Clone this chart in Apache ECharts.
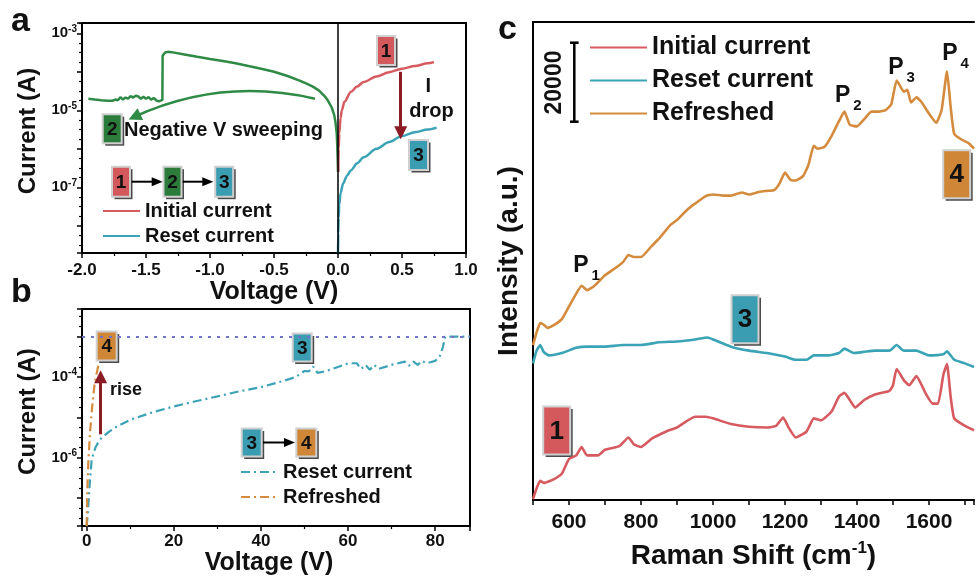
<!DOCTYPE html>
<html><head><meta charset="utf-8"><title>I-V and Raman</title>
<script src="https://cdn.jsdelivr.net/npm/echarts@6.0.0/dist/echarts.min.js"></script>
<style>html,body{margin:0;padding:0;background:#fff;}#chart{width:977px;height:577px;}</style>
</head><body><div id="chart"></div>
<script>
// ---------- Panel a : I-V sweeps (V in volts, I in amperes) ----------
const aInitialV = [0.002, 0.005, 0.01, 0.02, 0.03, 0.05, 0.1, 0.15, 0.2, 0.3, 0.4, 0.5, 0.6, 0.7, 0.75];
const aInitialI = [2.5e-7, 1.0e-6, 2.5e-6, 6.3e-6, 1.0e-5, 1.66e-5, 3.0e-5, 4.17e-5, 5.4e-5, 7.6e-5, 9.8e-5, 1.2e-4, 1.41e-4, 1.66e-4, 1.78e-4];
const aResetV = [0, 0.002, 0.005, 0.01, 0.02, 0.04, 0.07, 0.1, 0.15, 0.2, 0.3, 0.4, 0.5, 0.6, 0.7, 0.77];
const aResetI = [2.0e-9, 6.3e-9, 1.6e-8, 3.5e-8, 7.1e-8, 1.26e-7, 2.0e-7, 2.75e-7, 4.2e-7, 6.0e-7, 1.0e-6, 1.5e-6, 2.14e-6, 2.7e-6, 3.16e-6, 3.55e-6];
const aNegV = [0, -0.003, -0.006, -0.01, -0.02, -0.03, -0.05, -0.08, -0.1, -0.15, -0.2, -0.25, -0.3, -0.4, -0.5, -0.6, -0.7, -0.8, -0.9, -1.0, -1.1, -1.2, -1.3, -1.33, -1.35, -1.365, -1.37, -1.372, -1.38, -1.40, -1.42, -1.44, -1.46, -1.48, -1.50, -1.52, -1.54, -1.56, -1.58, -1.60, -1.62, -1.64, -1.66, -1.68, -1.70, -1.72, -1.74, -1.76, -1.80, -1.85, -1.90, -1.95];
const aNegI = [2.5e-7, 6.3e-7, 1.26e-6, 2.5e-6, 5.0e-6, 7.6e-6, 1.2e-5, 1.82e-5, 2.24e-5, 3.3e-5, 4.17e-5, 5.0e-5, 5.9e-5, 7.9e-5, 1.0e-4, 1.2e-4, 1.41e-4, 1.66e-4, 1.9e-4, 2.14e-4, 2.45e-4, 2.82e-4, 3.24e-4, 3.3e-4, 3.16e-4, 2.82e-4, 2.63e-4, 1.86e-5, 1.74e-5, 1.7e-5, 1.82e-5, 2.09e-5, 1.9e-5, 2.19e-5, 2.0e-5, 2.24e-5, 2.0e-5, 2.29e-5, 2.4e-5, 2.14e-5, 2.34e-5, 2.0e-5, 2.14e-5, 1.9e-5, 2.19e-5, 1.82e-5, 1.9e-5, 1.78e-5, 1.78e-5, 1.82e-5, 1.9e-5, 2.0e-5];
const aXRange = [-2, 1];
const aYRange = [1.97e-9, 1.85e-3];

// ---------- Panel b : high-voltage sweeps ----------
const bResetV = [0, 0.3, 0.6, 1.15, 2, 3, 5, 7, 10, 15, 20, 25, 30, 35, 40, 45, 48, 50, 51, 52, 53, 55, 58, 60, 62, 63, 64, 65, 66, 67, 70, 73, 74, 75, 76, 77, 78, 80, 81, 81.8, 82.3, 88];
const bResetI = [2.0e-8, 5.0e-8, 1.66e-7, 9.1e-7, 1.78e-6, 2.8e-6, 4.3e-6, 6.0e-6, 8.7e-6, 1.32e-5, 1.86e-5, 2.5e-5, 3.3e-5, 4.4e-5, 5.6e-5, 7.9e-5, 1.0e-4, 1.41e-4, 1.38e-4, 1.82e-4, 1.26e-4, 1.41e-4, 1.82e-4, 2.19e-4, 2.19e-4, 1.58e-4, 2.0e-4, 1.51e-4, 2.0e-4, 1.58e-4, 2.0e-4, 2.4e-4, 1.9e-4, 2.4e-4, 2.0e-4, 2.51e-4, 2.19e-4, 2.51e-4, 3.16e-4, 5.6e-4, 1.0e-3, 1.0e-3];
const bRefreshV = [0, 0.1, 0.2, 0.4, 0.76, 1.2, 1.8, 2.3, 2.7];
const bRefreshI = [2.0e-8, 1.0e-7, 2.5e-7, 9.1e-7, 4.2e-6, 1.58e-5, 6.5e-5, 1.26e-4, 2.0e-4];
const bCompliance = 1e-3;
const bXRange = [-1.08, 88];
const bYRange = [2.01e-8, 4.85e-3];

// ---------- Panel c : Raman spectra (offset, a.u.) ----------
const cInitialShift = [500,510,520,530,560,580,600,620,635,650,680,700,740,765,780,800,830,870,900,950,980,1000,1050,1100,1150,1175,1195,1210,1230,1260,1280,1300,1330,1350,1365,1380,1395,1420,1450,1490,1500,1510,1530,1545,1565,1590,1610,1625,1640,1650,1660,1670,1700,1725];
const cInitialInt = [200,2950,4800,4300,5300,6600,10300,11200,13300,11200,11200,12600,13500,15700,14000,13300,15400,17200,18200,20900,20900,20500,19100,18400,18200,18600,20700,18200,15700,17200,20500,20000,22300,26000,26900,25100,23200,25100,26500,27400,28800,32900,30100,28800,31100,26900,24200,24200,31500,34100,26000,20500,18600,17500];
const cResetShift = [500,510,520,530,545,580,620,650,700,750,800,850,900,950,985,1000,1050,1100,1150,1200,1230,1260,1280,1320,1350,1365,1390,1420,1450,1490,1510,1530,1565,1600,1640,1650,1670,1700,1725];
const cResetInt = [34300,37500,38900,37100,36300,36900,38200,38500,38500,38900,38900,39600,39800,40300,40800,40300,38500,37500,36900,36000,35200,35200,36300,36300,36900,38000,36900,37200,37500,37500,38900,37500,37500,36300,36600,37300,35200,34300,33400];
const cRefreshShift = [500,510,520,530,540,560,580,600,620,635,650,670,700,730,750,765,780,800,830,850,880,900,930,950,980,1000,1030,1050,1080,1100,1130,1150,1170,1185,1200,1215,1230,1250,1265,1280,1290,1310,1330,1350,1365,1380,1400,1420,1440,1460,1480,1495,1510,1520,1530,1540,1550,1565,1580,1600,1620,1635,1650,1660,1670,1690,1710,1725];
const cRefreshInt = [38900,42100,44400,44000,43200,44000,45400,48600,51800,53800,52700,53700,56400,58300,59700,61500,61000,61000,63800,65600,68900,70300,73000,74400,76300,76700,76400,76400,77200,76700,77400,77600,77800,79500,82200,80400,80200,81300,84100,88900,88200,88700,91500,95100,97500,94200,93800,95600,97500,97500,97900,99300,105300,103900,102500,103000,99800,101100,99800,97000,94700,97900,107600,98800,91900,90500,89600,88200];
const cXRange = [500, 1725];
const cYRange = [0, 120000];
const cScaleBar = 20000;

// ---------- styling ----------
const FONT = '"Liberation Sans", Arial, Helvetica, sans-serif';
const RED = '#D65A5F', CYAN = '#3BA3B6', GREEN = '#2E8A45', ORANGE = '#D58B3D', DARKRED = '#8C1C24', DOT = '#7373CC';
const BOX_RED = '#D3595C', BOX_GREEN = '#2B7B3B', BOX_CYAN = '#3A9DB1', BOX_ORANGE = '#CF8636';
const DASHDOT = [9, 4, 2, 4];

const lg = v => Math.log10(v);
const logPts = (xs, ys) => xs.map((x, i) => [x, lg(ys[i])]);
const pts = (xs, ys) => xs.map((x, i) => [x, ys[i]]);

const axisLineS = {show: true, onZero: false, lineStyle: {color: '#000', width: 2}};
const tickS = {show: true, length: 5, lineStyle: {color: '#000', width: 1.5}};
const minorS = n => ({show: true, splitNumber: n, length: 3, lineStyle: {color: '#000', width: 1.2}});
const lblS = (size, margin, fmt) => ({fontSize: size, fontWeight: 'bold', fontFamily: FONT, color: '#111', margin: margin, formatter: fmt});
const nameS = (size, extra) => Object.assign({fontSize: size, fontWeight: 'bold', fontFamily: FONT, color: '#111'}, extra || {});
const decRich = {
  b: {fontSize: 15, fontWeight: 'bold', fontFamily: FONT, color: '#111'},
  s: {fontSize: 10, fontWeight: 'bold', fontFamily: FONT, color: '#111', padding: [0, 0, 9, 0]}
};
function decadeLabel(odd) {
  return v => {
    const k = Math.round(v);
    if (Math.abs(v - k) > 1e-6) return '';
    if ((Math.abs(k) % 2 === 1) !== odd) return '';
    return '{b|10}{s|' + k + '}';
  };
}

function txt(x, y, s, size, opt) {
  opt = opt || {};
  const al = opt.align || 'left';
  return {type: 'text', x: x, y: y, rotation: opt.rot || 0, z: 100,
    style: {text: s, font: 'bold ' + size + 'px ' + FONT, fill: '#111', align: al, verticalAlign: 'middle', textAlign: al, textVerticalAlign: 'middle'}};
}
function box(cx, cy, w, h, fill, label, size) {
  return {type: 'group', x: cx - w / 2, y: cy - h / 2, z: 100, children: [
    {type: 'rect', shape: {x: 2.5, y: 2.5, width: w, height: h}, style: {fill: '#4a4a4a'}},
    {type: 'rect', shape: {x: 0, y: 0, width: w, height: h}, style: {fill: fill, stroke: '#d0d0d0', lineWidth: 2}},
    {type: 'text', x: w / 2, y: h / 2 + 1, style: {text: label, font: 'bold ' + size + 'px ' + FONT, fill: '#111', align: 'center', verticalAlign: 'middle', textAlign: 'center', textVerticalAlign: 'middle'}}
  ]};
}
function harrow(x1, x2, y) {
  return {type: 'group', z: 100, children: [
    {type: 'line', shape: {x1: x1, y1: y, x2: x2 - 9, y2: y}, style: {stroke: '#000', lineWidth: 2}},
    {type: 'polygon', shape: {points: [[x2, y], [x2 - 11, y - 4.5], [x2 - 11, y + 4.5]]}, style: {fill: '#000'}}
  ]};
}

const chart = echarts.init(document.getElementById('chart'), null, {renderer: 'canvas'});

const legendText = size => ({fontSize: size, fontWeight: 'bold', fontFamily: FONT, color: '#111'});
const legendBase = {orient: 'vertical', padding: 0, itemHeight: 12, selectedMode: false, itemStyle: {opacity: 0}, formatter: n => n.trim()};

const option = {
  animation: false,
  backgroundColor: '#fff',
  textStyle: {fontFamily: FONT},
  grid: [
    {left: 82, top: 23, width: 384, height: 230, show: true, borderColor: '#000', borderWidth: 2, backgroundColor: 'transparent'},
    {left: 82, top: 309, width: 388, height: 218, show: true, borderColor: '#000', borderWidth: 2, backgroundColor: 'transparent'},
    {left: 533, top: 22, width: 444, height: 478, show: false}
  ],
  xAxis: [
    {gridIndex: 0, type: 'value', min: aXRange[0], max: aXRange[1], interval: 0.5,
      axisLine: axisLineS, axisTick: tickS, minorTick: minorS(2), splitLine: {show: false},
      axisLabel: lblS(17, 9, v => v.toFixed(1)),
      name: 'Voltage (V)', nameLocation: 'middle', nameGap: 27, nameTextStyle: nameS(25)},
    {gridIndex: 1, type: 'value', min: bXRange[0], max: bXRange[1], minInterval: 20, maxInterval: 20,
      axisLine: axisLineS, axisTick: tickS, minorTick: minorS(2), splitLine: {show: false},
      axisLabel: lblS(17, 7, v => (Math.abs(v % 20) < 1e-6 ? String(Math.round(v)) : '')),
      name: 'Voltage (V)', nameLocation: 'middle', nameGap: 21, nameTextStyle: nameS(25, {padding: [0, 14, 0, 0]})},
    {gridIndex: 2, type: 'value', min: cXRange[0], max: cXRange[1], interval: 100,
      axisLine: axisLineS, axisTick: tickS, splitLine: {show: false},
      axisLabel: lblS(21, 12, v => (v >= 600 && v <= 1600 && v % 200 === 0 ? String(v) : '')),
      name: '{t|Raman Shift (cm}{s|-1}{t|)}', nameLocation: 'middle', nameGap: 40,
      nameTextStyle: nameS(28, {rich: {
        t: {fontSize: 28, fontWeight: 'bold', fontFamily: FONT, color: '#111'},
        s: {fontSize: 17, fontWeight: 'bold', fontFamily: FONT, color: '#111', padding: [0, 0, 16, 0]}}})},
    {gridIndex: 2, type: 'value', position: 'top', min: cXRange[0], max: cXRange[1],
      axisLine: axisLineS, axisTick: {show: false}, axisLabel: {show: false}, splitLine: {show: false}}
  ],
  yAxis: [
    {gridIndex: 0, type: 'value', min: lg(aYRange[0]), max: lg(aYRange[1]), minInterval: 1, maxInterval: 1,
      axisLine: axisLineS, axisTick: tickS, minorTick: minorS(4), splitLine: {show: false},
      axisLabel: {margin: 5, formatter: decadeLabel(true), rich: decRich},
      name: 'Current (A)', nameLocation: 'middle', nameGap: 42, nameTextStyle: nameS(24, {padding: [0, 0, 0, 14]})},
    {gridIndex: 1, type: 'value', min: lg(bYRange[0]), max: lg(bYRange[1]), minInterval: 1, maxInterval: 1,
      axisLine: axisLineS, axisTick: tickS, minorTick: minorS(4), splitLine: {show: false},
      axisLabel: {margin: 5, formatter: decadeLabel(false), rich: decRich},
      name: 'Current (A)', nameLocation: 'middle', nameGap: 42, nameTextStyle: nameS(24, {padding: [0, 0, 0, 12]})},
    {gridIndex: 2, type: 'value', min: cYRange[0], max: cYRange[1],
      axisLine: axisLineS, axisTick: {show: false}, axisLabel: {show: false}, splitLine: {show: false},
      name: 'Intensity (a.u.)', nameLocation: 'middle', nameGap: 10, nameTextStyle: nameS(28)}
  ],
  legend: [
    Object.assign({}, legendBase, {data: ['Initial current', 'Reset current'], left: 102, top: 201,
      itemWidth: 37, itemGap: 5, textStyle: legendText(20)}),
    Object.assign({}, legendBase, {data: ['Reset current ', 'Refreshed'], left: 240, top: 462,
      itemWidth: 37, itemGap: 5, textStyle: legendText(20)}),
    Object.assign({}, legendBase, {data: ['Initial current  ', 'Reset current  ', 'Refreshed '], left: 589, top: 35,
      itemWidth: 57, itemGap: 8, textStyle: legendText(25)})
  ],
  series: [
    // panel a
    {name: 'Negative sweep', type: 'line', xAxisIndex: 0, yAxisIndex: 0, data: logPts(aNegV, aNegI), symbol: 'none',
      lineStyle: {color: GREEN, width: 2.5}, itemStyle: {color: GREEN}, z: 3,
      markLine: {silent: true, animation: false, symbol: ['none', 'none'], label: {show: false},
        lineStyle: {color: '#000', width: 1.5, type: 'solid'}, data: [{xAxis: 0}]}},
    {name: 'Initial current', type: 'line', xAxisIndex: 0, yAxisIndex: 0, data: logPts(aInitialV, aInitialI), symbol: 'none',
      smooth: 0.3, smoothMonotone: 'x', lineStyle: {color: RED, width: 2.5}, itemStyle: {color: RED}, z: 4,
      markLine: {silent: true, animation: false, symbol: ['none', 'triangle'], symbolSize: 13, label: {show: false},
        lineStyle: {color: DARKRED, width: 3, type: 'solid'},
        data: [[{coord: [0.49, lg(1.0e-4)]}, {coord: [0.49, lg(2.6e-6)]}]]}},
    {name: 'Reset current', type: 'line', xAxisIndex: 0, yAxisIndex: 0, data: logPts(aResetV, aResetI), symbol: 'none',
      smooth: 0.3, smoothMonotone: 'x', lineStyle: {color: CYAN, width: 2.5}, itemStyle: {color: CYAN}, z: 4},
    {name: 'sweep arrow', type: 'lines', coordinateSystem: 'cartesian2d', xAxisIndex: 0, yAxisIndex: 0, silent: true,
      symbol: ['none', 'triangle'], symbolSize: 13, z: 5,
      lineStyle: {color: GREEN, width: 2.5, opacity: 1, curveness: -0.17},
      data: [{coords: [[-0.18, lg(2.0e-5)], [-1.59, lg(6.8e-6)]]}]},
    // panel b
    {name: 'Reset current ', type: 'line', xAxisIndex: 1, yAxisIndex: 1, data: logPts(bResetV, bResetI), symbol: 'none',
      lineStyle: {color: CYAN, width: 2.2, type: DASHDOT}, itemStyle: {color: CYAN}, z: 4,
      markLine: {silent: true, animation: false, symbol: ['none', 'none'], label: {show: false},
        lineStyle: {color: DOT, width: 2, type: [3, 6]}, data: [{yAxis: lg(bCompliance)}]}},
    {name: 'Refreshed', type: 'line', xAxisIndex: 1, yAxisIndex: 1, data: logPts(bRefreshV, bRefreshI), symbol: 'none',
      lineStyle: {color: ORANGE, width: 2.2, type: DASHDOT}, itemStyle: {color: ORANGE}, z: 4,
      markLine: {silent: true, animation: false, symbol: ['none', 'triangle'], symbolSize: 13, label: {show: false},
        lineStyle: {color: DARKRED, width: 3, type: 'solid'},
        data: [[{coord: [3.2, lg(3.8e-6)]}, {coord: [3.2, lg(1.02e-4)]}]]}},
    // panel c
    {name: 'Initial current  ', type: 'line', xAxisIndex: 2, yAxisIndex: 2, data: pts(cInitialShift, cInitialInt), symbol: 'none',
      smooth: 0.15, lineStyle: {color: RED, width: 2.6}, itemStyle: {color: RED}},
    {name: 'Reset current  ', type: 'line', xAxisIndex: 2, yAxisIndex: 2, data: pts(cResetShift, cResetInt), symbol: 'none',
      smooth: 0.15, lineStyle: {color: CYAN, width: 2.6}, itemStyle: {color: CYAN}},
    {name: 'Refreshed ', type: 'line', xAxisIndex: 2, yAxisIndex: 2, data: pts(cRefreshShift, cRefreshInt), symbol: 'none',
      smooth: 0.15, lineStyle: {color: ORANGE, width: 2.6}, itemStyle: {color: ORANGE}}
  ],
  graphic: [
    // panel letters
    txt(11, 22, 'a', 34), txt(11, 293, 'b', 34), txt(498, 30, 'c', 34),
    // panel a annotations
    box(386, 50.5, 18, 29, BOX_RED, '1', 19),
    box(418.5, 155, 19, 30, BOX_CYAN, '3', 19),
    box(112.2, 128.7, 19, 29, BOX_GREEN, '2', 19),
    txt(124, 130.5, 'Negative V sweeping', 20),
    txt(428.3, 86.7, 'I', 20, {align: 'center'}),
    txt(409.3, 111.5, 'drop', 20),
    box(121, 181.7, 18, 30, BOX_RED, '1', 19),
    box(172.5, 181.7, 18, 30, BOX_GREEN, '2', 19),
    box(224.2, 181.7, 18, 30, BOX_CYAN, '3', 19),
    harrow(131.7, 162.7, 181.7), harrow(182.7, 213.3, 181.7),
    // panel b annotations
    box(106.7, 346, 20, 29, BOX_ORANGE, '4', 19),
    box(302.2, 347.5, 19, 28, BOX_CYAN, '3', 19),
    txt(110, 390.5, 'rise', 18),
    box(251.7, 442.5, 20, 28, BOX_CYAN, '3', 19),
    box(306.3, 442.5, 20, 28, BOX_ORANGE, '4', 19),
    harrow(263, 295, 442.5),
    // panel c annotations
    box(956.7, 174.3, 27, 48, BOX_ORANGE, '4', 26),
    box(745, 319.3, 27, 48, BOX_CYAN, '3', 26),
    box(556.7, 430.5, 27, 48, BOX_RED, '1', 26),
    txt(573.3, 265.3, 'P', 23), txt(591.5, 275.5, '1', 15),
    txt(835, 95.3, 'P', 23), txt(853.2, 105.5, '2', 15),
    txt(888.3, 67.9, 'P', 23), txt(906.5, 78, '3', 15),
    txt(942.3, 53.2, 'P', 23), txt(960.5, 63.4, '4', 15),
    // 20000 a.u. scale bar
    {type: 'group', z: 100, children: [
      {type: 'line', shape: {x1: 574.3, y1: 42.7, x2: 574.3, y2: 121.7}, style: {stroke: '#000', lineWidth: 2.5}},
      {type: 'line', shape: {x1: 570, y1: 42.7, x2: 578.6, y2: 42.7}, style: {stroke: '#000', lineWidth: 2.5}},
      {type: 'line', shape: {x1: 570, y1: 121.7, x2: 578.6, y2: 121.7}, style: {stroke: '#000', lineWidth: 2.5}}
    ]},
    txt(555, 82.5, String(cScaleBar), 23, {align: 'center', rot: Math.PI / 2})
  ]
};
chart.setOption(option);
</script>
</body></html>
